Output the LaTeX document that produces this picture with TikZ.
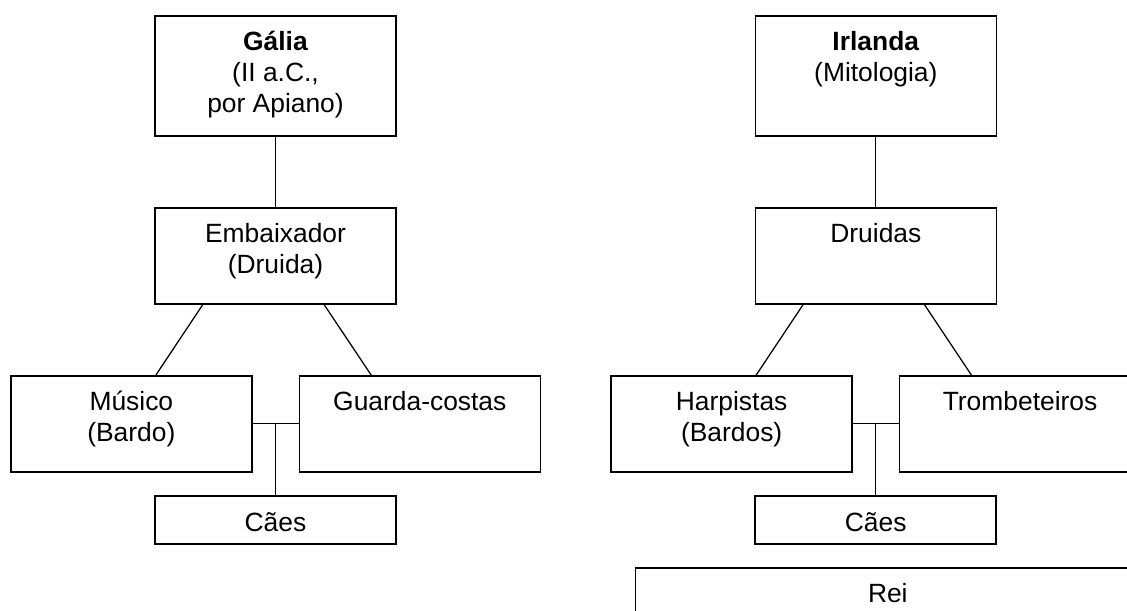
\documentclass[tikz,border=0pt]{standalone}
\usepackage{fontspec}
\setmainfont{Liberation Sans}
\usetikzlibrary{calc}
\begin{document}
\begin{tikzpicture}[x=0.75pt,y=-0.75pt,
  box/.style={draw=black, line width=1.2pt, minimum width=180.75pt, inner sep=0pt, outer sep=0pt},
  tall/.style={box, minimum height=90.2pt},
  mid/.style={box, minimum height=72.2pt},
  low/.style={box, minimum height=36pt},
  txt/.style={font=\fontsize{19.8}{23.1}\selectfont, inner sep=0pt, outer sep=0pt, anchor=base},
  link/.style={draw=black, line width=0.95pt}]
\path[use as bounding box, clip] (0,0) rectangle (1127,610);
\fill[white] (0,0) rectangle (1127,610);

% ---------- left tree ----------
\node[tall] (galia) at (275.5,75.85) {};
\node[mid] (emb) at (275.5,255.85) {};
\node[mid] (musico) at (131.35,423.85) {};
\node[mid] (guarda) at (419.8,423.85) {};
\node[low] (caesA) at (275.5,520) {};

\node[txt] (galiaT) at ([yshift=-26.25pt]galia.north) {\begin{tabular}[t]{@{}c@{}}\textbf{Gália}\\(II a.C.,\\por Apiano)\end{tabular}};
\node[txt] (embT) at ([yshift=-26.25pt]emb.north) {\begin{tabular}[t]{@{}c@{}}Embaixador\\(Druida)\end{tabular}};
\node[txt] (musicoT) at ([yshift=-26.25pt]musico.north) {\begin{tabular}[t]{@{}c@{}}Músico\\(Bardo)\end{tabular}};
\node[txt] (guardaT) at ([yshift=-26.25pt]guarda.north) {Guarda-costas};
\node[txt] (caesAT) at ([yshift=-26.25pt]caesA.north) {Cães};

\draw[link] (galia.south) -- (emb.north);
\coordinate (eA) at ($(emb.south west)!0.2!(emb.south east)$);
\coordinate (eB) at ($(emb.south west)!0.7!(emb.south east)$);
\coordinate (mA) at ($(musico.north west)!0.6!(musico.north east)$);
\coordinate (gA) at ($(guarda.north west)!0.3!(guarda.north east)$);
\draw[link] (eA) -- (mA);
\draw[link] (eB) -- (gA);
\draw[link] (musico.east) -- (guarda.west);
\coordinate (jA) at ($(musico.east)!0.5!(guarda.west)$);
\draw[link] (jA) -- (jA |- caesA.north);

% ---------- right tree ----------
\node[tall] (irl) at (875.85,75.85) {};
\node[mid] (dru) at (875.85,255.85) {};
\node[mid] (harp) at (731.65,423.85) {};
\node[mid] (tromb) at (1020.05,423.85) {};
\node[low] (caesB) at (875.7,520) {};
\node[box, minimum width=378.75pt, minimum height=72.2pt] (rei) at (887.8,615.85) {};

\node[txt] (irlT) at ([yshift=-26.25pt]irl.north) {\begin{tabular}[t]{@{}c@{}}\textbf{Irlanda}\\(Mitologia)\end{tabular}};
\node[txt] (druT) at ([yshift=-26.25pt]dru.north) {Druidas};
\node[txt] (harpT) at ([yshift=-26.25pt]harp.north) {\begin{tabular}[t]{@{}c@{}}Harpistas\\(Bardos)\end{tabular}};
\node[txt] (trombT) at ([yshift=-26.25pt]tromb.north) {Trombeteiros};
\node[txt] (caesBT) at ([yshift=-26.25pt]caesB.north) {Cães};
\node[txt] (reiT) at ([yshift=-26.25pt]rei.north) {Rei};

\draw[link] (irl.south) -- (dru.north);
\coordinate (dA) at ($(dru.south west)!0.2!(dru.south east)$);
\coordinate (dB) at ($(dru.south west)!0.7!(dru.south east)$);
\coordinate (hA) at ($(harp.north west)!0.6!(harp.north east)$);
\coordinate (tA) at ($(tromb.north west)!0.3!(tromb.north east)$);
\draw[link] (dA) -- (hA);
\draw[link] (dB) -- (tA);
\draw[link] (harp.east) -- (tromb.west);
\coordinate (jB) at ($(harp.east)!0.5!(tromb.west)$);
\draw[link] (jB) -- (jB |- caesB.north);
\end{tikzpicture}
\end{document}
